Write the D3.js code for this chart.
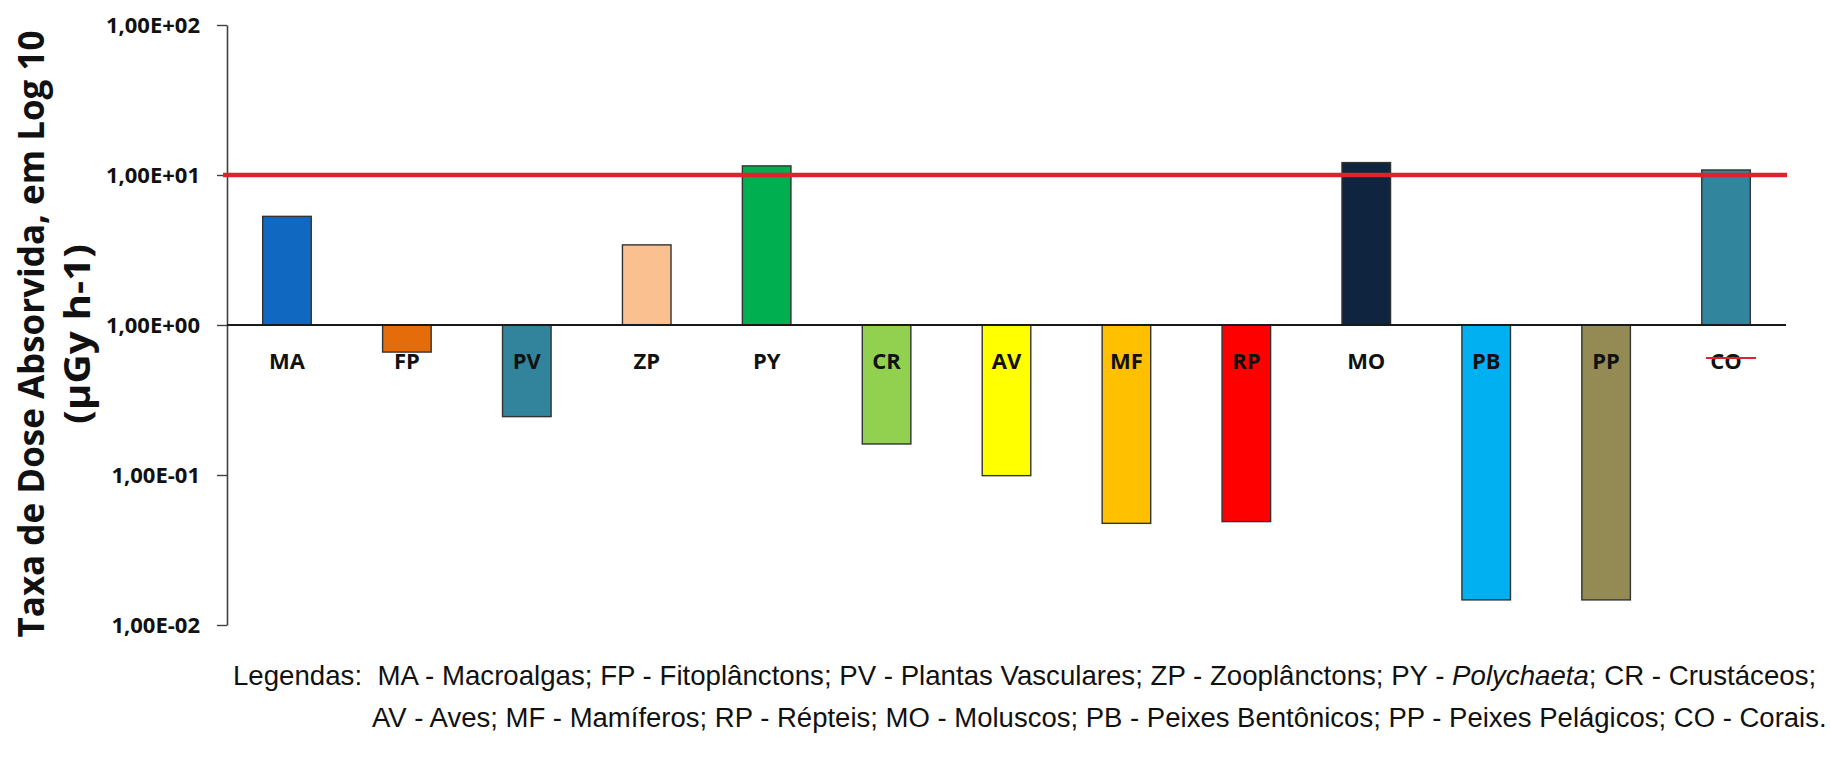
<!DOCTYPE html>
<html>
<head>
<meta charset="utf-8">
<script src="https://cdn.jsdelivr.net/npm/d3@7/dist/d3.min.js"></script>
<style>
  html, body { margin: 0; padding: 0; background: #fff; }
  svg { display: block; }
  text { white-space: pre; }
</style>
</head>
<body>
<svg id="chart" width="1830" height="758"></svg>
<script>
// Absorbed dose rate per organism group (µGy h-1), plotted on a log10 axis
const categories = ["MA", "FP", "PV", "ZP", "PY", "CR", "AV", "MF", "RP", "MO", "PB", "PP", "CO"];
const doseRates  = [5.3, 0.66, 0.245, 3.42, 11.5, 0.161, 0.099, 0.0476, 0.0489, 12.1, 0.0147, 0.0147, 10.8];
const barColors  = ["#1068c0", "#e46c0a", "#31849b", "#fac090", "#00b050", "#92d050", "#ffff00",
                    "#ffc000", "#ff0000", "#0f243e", "#00b0f0", "#948a54", "#31859c"];
const tickValues = [0.01, 0.1, 1, 10, 100];
const tickLabels = ["1,00E-02", "1,00E-01", "1,00E+00", "1,00E+01", "1,00E+02"];
const referenceLevel = 10;
const baseValue = 1;
const yTitleLines = ["Taxa de Dose Absorvida, em Log 10", "(µGy h-1)"];
const legendLine1 = [
  ["Legendas:  MA - Macroalgas; FP - Fitoplânctons; PV - Plantas Vasculares; ZP - Zooplânctons; PY - ", "normal"],
  ["Polychaeta", "italic"],
  ["; CR - Crustáceos;", "normal"]
];
const legendLine2 = [
  ["AV - Aves; MF - Mamíferos; RP - Répteis; MO - Moluscos; PB - Peixes Bentônicos; PP - Peixes Pelágicos; CO - Corais.", "normal"]
];

const svg = d3.select("#chart");
const plotLeft = 227, plotRight = 1786, plotTop = 25, plotBottom = 625;

const x = d3.scaleBand()
  .domain(categories)
  .range([plotLeft, plotRight])
  .paddingInner(0.595)
  .paddingOuter(0.2975);

const y = d3.scaleLog()
  .domain([0.01, 100])
  .range([plotBottom, plotTop]);

const data = categories.map((c, i) => ({ cat: c, value: doseRates[i], color: barColors[i] }));

// Bars grow up or down from the 1,00E+00 baseline
svg.append("g")
  .selectAll("rect")
  .data(data)
  .join("rect")
  .attr("x", d => x(d.cat))
  .attr("width", x.bandwidth())
  .attr("y", d => Math.min(y(d.value), y(baseValue)))
  .attr("height", d => Math.abs(y(d.value) - y(baseValue)))
  .attr("fill", d => d.color)
  .attr("stroke", "#333")
  .attr("stroke-width", 1.4);

// Y axis
const yAxis = svg.append("g")
  .attr("transform", `translate(${plotLeft},0)`)
  .call(d3.axisLeft(y)
    .tickValues(tickValues)
    .tickFormat((d, i) => tickLabels[i])
    .tickSize(10)
    .tickSizeOuter(0)
    .tickPadding(17));
yAxis.select(".domain").attr("stroke", "#404040").attr("stroke-width", 1.6);
yAxis.selectAll(".tick line").attr("stroke", "#404040").attr("stroke-width", 1.4);
yAxis.selectAll(".tick text")
  .attr("fill", "#111")
  .style("font-family", "'Open Sans', sans-serif")
  .style("font-weight", "700")
  .style("font-size", "22px");

// Baseline at 1,00E+00
svg.append("line")
  .attr("x1", plotLeft).attr("x2", plotRight)
  .attr("y1", y(baseValue)).attr("y2", y(baseValue))
  .attr("stroke", "#1a1a1a").attr("stroke-width", 2);

// Reference level at 10 µGy h-1
svg.append("line")
  .attr("x1", plotLeft - 4).attr("x2", plotRight + 1)
  .attr("y1", y(referenceLevel)).attr("y2", y(referenceLevel))
  .attr("stroke", "#e0222e").attr("stroke-width", 4.5);

// Category labels below the baseline
svg.append("g")
  .selectAll("text")
  .data(data)
  .join("text")
  .attr("x", d => x(d.cat) + x.bandwidth() / 2)
  .attr("y", y(baseValue) + 44)
  .attr("text-anchor", "middle")
  .attr("fill", "#111")
  .style("font-family", "'Open Sans', sans-serif")
  .style("font-weight", "700")
  .style("font-size", "22px")
  .text(d => d.cat);

// Red stroke through the CO label
const coX = x("CO") + x.bandwidth() / 2;
svg.append("line")
  .attr("x1", coX - 20).attr("x2", coX + 30)
  .attr("y1", y(baseValue) + 33).attr("y2", y(baseValue) + 33)
  .attr("stroke", "#e0222e").attr("stroke-width", 2);

// Y axis title (two rotated lines)
const titleCenterY = 334;
[[44, 607, 0], [90, 180, 1]].forEach(([bx, len, i]) => {
  svg.append("text")
    .attr("transform", `translate(${bx},${titleCenterY}) rotate(-90)`)
    .attr("text-anchor", "middle")
    .attr("textLength", len)
    .attr("lengthAdjust", "spacingAndGlyphs")
    .attr("fill", "#111")
    .style("font-family", "'Open Sans', sans-serif")
    .style("font-weight", "700")
    .style("font-size", "35px")
    .text(yTitleLines[i]);
});

// Legend text, fitted to its line width
function legendLine(parts, x0, baseline, width) {
  const t = svg.append("text")
    .attr("x", 0).attr("y", 0)
    .attr("fill", "#111")
    .style("font-family", "'Liberation Sans', Arial, sans-serif")
    .style("font-size", "27px");
  parts.forEach(([s, st]) => t.append("tspan").style("font-style", st).text(s));
  const w = t.node().getComputedTextLength();
  t.attr("transform", `translate(${x0},${baseline}) scale(${width / w},1)`);
}
legendLine(legendLine1, 233, 685, 1584);
legendLine(legendLine2, 372, 727, 1455);
</script>
</body>
</html>
